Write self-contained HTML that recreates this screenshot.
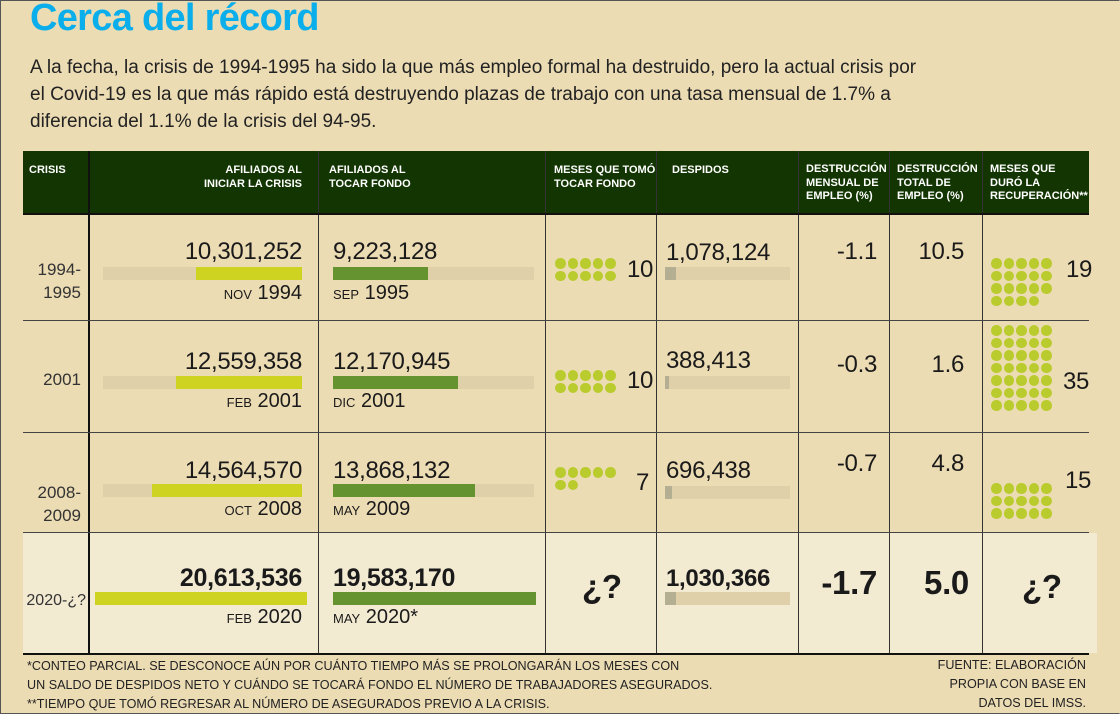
<!DOCTYPE html>
<html><head><meta charset="utf-8">
<style>
*{margin:0;padding:0;box-sizing:border-box}
body{width:1120px;height:714px;background:#ecdcb4;position:relative;overflow:hidden;font-family:"Liberation Sans",sans-serif;color:#1a1a1a}
.frame{position:absolute;left:0;top:0;width:1120px;height:714px;border:1px solid #555;border-right-color:#ecdcb4}
h1{position:absolute;left:30px;top:-3px;font-size:38px;font-weight:bold;color:#0aaeea;letter-spacing:-0.7px}
.p{position:absolute;left:30px;top:54px;font-size:19px;line-height:27px;width:900px;color:#222}
.hdr{position:absolute;left:23px;top:151px;width:1066px;height:62px;background:#123502}
.ht{position:absolute;color:#fff;font-weight:bold;font-size:11px;line-height:13.5px;top:164px}
.vl{position:absolute;width:1px;background:#333}
.hl{position:absolute;height:1px;background:#444;left:23px;width:1066px}
.num{position:absolute;font-size:24px;white-space:nowrap;letter-spacing:-0.3px}
.b{font-weight:bold}
.bar{position:absolute;height:13px;background:#dfd0aa}
.y{position:absolute;height:13px;background:#cdd320}
.g{position:absolute;height:13px;background:#649330}
.gs{position:absolute;height:13px;background:#b4ae92}
.dt{position:absolute;font-size:20px;white-space:nowrap}
.dt small{font-size:13px}
.dots{position:absolute;display:flex;flex-wrap:wrap;width:64px}
.dots span{width:10.5px;height:10.5px;border-radius:50%;background:#b9cb2d;margin:0 2px 2px 0}
.lab{position:absolute;font-size:17px;text-align:right;line-height:23px;color:#333}
.fn{position:absolute;font-size:12.6px;line-height:20px;color:#222;white-space:nowrap}
</style></head><body>
<h1>Cerca del récord</h1>
<div class="p">A la fecha, la crisis de 1994-1995 ha sido la que más empleo formal ha destruido, pero la actual crisis por el Covid-19 es la que más rápido está destruyendo plazas de trabajo con una tasa mensual de 1.7% a diferencia del 1.1% de la crisis del 94-95.</div>

<div style="position:absolute;left:23px;top:533px;width:1074px;height:120px;background:#f3ead2"></div>

<div class="hdr"></div>
<div class="ht" style="left:29px">CRISIS</div>
<div class="ht" style="left:180px;width:122px;text-align:right">AFILIADOS AL<br>INICIAR LA CRISIS</div>
<div class="ht" style="left:329px">AFILIADOS AL<br>TOCAR FONDO</div>
<div class="ht" style="left:554px">MESES QUE TOMÓ<br>TOCAR FONDO</div>
<div class="ht" style="left:672px">DESPIDOS</div>
<div class="ht" style="left:806px;top:163px">DESTRUCCIÓN<br>MENSUAL DE<br>EMPLEO (%)</div>
<div class="ht" style="left:897px;top:163px">DESTRUCCIÓN<br>TOTAL DE<br>EMPLEO (%)</div>
<div class="ht" style="left:990px;top:163px">MESES QUE<br>DURÓ LA<br>RECUPERACIÓN**</div>

<div class="vl" style="left:88px;top:151px;height:503px;width:2px;background:#111"></div>
<div class="vl" style="left:318px;top:151px;height:503px"></div>
<div class="vl" style="left:545px;top:151px;height:503px"></div>
<div class="vl" style="left:656px;top:151px;height:503px"></div>
<div class="vl" style="left:798px;top:151px;height:503px"></div>
<div class="vl" style="left:889px;top:151px;height:503px"></div>
<div class="vl" style="left:982px;top:151px;height:503px"></div>
<div class="hl" style="top:213px;height:2px;background:#111"></div>
<div class="hl" style="top:320px"></div>
<div class="hl" style="top:432px"></div>
<div class="hl" style="top:532px"></div>
<div class="hl" style="top:653px;height:2px;background:#111"></div>

<div class="lab" style="left:20px;width:61px;top:258px">1994-<br>1995</div>
<div class="lab" style="left:20px;width:61px;top:368px">2001</div>
<div class="lab" style="left:20px;width:61px;top:481px">2008-<br>2009</div>
<div class="lab" style="left:20px;width:66px;top:589px;font-size:16px">2020-¿?</div>

<div class="num" style="right:818px;top:238px">10,301,252</div>
<div class="bar" style="left:103px;width:199px;top:267px"></div><div class="y" style="left:196px;width:106px;top:267px"></div>
<div class="dt" style="right:818px;top:282px"><small>NOV</small> 1994</div>
<div class="num" style="left:333px;top:238px">9,223,128</div>
<div class="bar" style="left:333px;width:201px;top:267px"></div><div class="g" style="left:333px;width:95px;top:267px"></div>
<div class="dt" style="left:333px;top:282px"><small>SEP</small> 1995</div>

<div class="num" style="right:818px;top:348px">12,559,358</div>
<div class="bar" style="left:103px;width:199px;top:376px"></div><div class="y" style="left:176px;width:126px;top:376px"></div>
<div class="dt" style="right:818px;top:390px"><small>FEB</small> 2001</div>
<div class="num" style="left:333px;top:348px">12,170,945</div>
<div class="bar" style="left:333px;width:201px;top:376px"></div><div class="g" style="left:333px;width:125px;top:376px"></div>
<div class="dt" style="left:333px;top:390px"><small>DIC</small> 2001</div>

<div class="num" style="right:818px;top:457px">14,564,570</div>
<div class="bar" style="left:103px;width:199px;top:484px"></div><div class="y" style="left:152px;width:150px;top:484px"></div>
<div class="dt" style="right:818px;top:498px"><small>OCT</small> 2008</div>
<div class="num" style="left:333px;top:457px">13,868,132</div>
<div class="bar" style="left:333px;width:201px;top:484px"></div><div class="g" style="left:333px;width:142px;top:484px"></div>
<div class="dt" style="left:333px;top:498px"><small>MAY</small> 2009</div>

<div class="num b" style="right:818px;top:564px;font-size:25px">20,613,536</div>
<div class="y" style="left:95px;width:212px;top:592px"></div>
<div class="dt" style="right:818px;top:606px"><small>FEB</small> 2020</div>
<div class="num b" style="left:333px;top:564px;font-size:25px">19,583,170</div>
<div class="g" style="left:333px;width:203px;top:592px"></div>
<div class="dt" style="left:333px;top:606px"><small>MAY</small> 2020*</div>

<div class="dots" style="left:555px;top:258px"><span></span><span></span><span></span><span></span><span></span><span></span><span></span><span></span><span></span><span></span></div>
<div class="num" style="left:627px;top:256px">10</div>
<div class="dots" style="left:555px;top:370px"><span></span><span></span><span></span><span></span><span></span><span></span><span></span><span></span><span></span><span></span></div>
<div class="num" style="left:627px;top:367px">10</div>
<div class="dots" style="left:555px;top:467px"><span></span><span></span><span></span><span></span><span></span><span></span><span></span></div>
<div class="num" style="left:636px;top:469px">7</div>
<div class="num b" style="left:582px;top:568px;font-size:33px">¿?</div>

<div class="num" style="left:666px;top:239px">1,078,124</div>
<div class="bar" style="left:665px;width:125px;top:267px"></div><div class="gs" style="left:665px;width:11px;top:267px"></div>
<div class="num" style="left:666px;top:347px">388,413</div>
<div class="bar" style="left:665px;width:125px;top:376px"></div><div class="gs" style="left:665px;width:4px;top:376px"></div>
<div class="num" style="left:666px;top:457px">696,438</div>
<div class="bar" style="left:665px;width:125px;top:486px"></div><div class="gs" style="left:665px;width:7px;top:486px"></div>
<div class="num b" style="left:666px;top:565px">1,030,366</div>
<div class="bar" style="left:665px;width:125px;top:592px"></div><div class="gs" style="left:665px;width:11px;top:592px"></div>

<div class="num" style="right:243px;top:238px">-1.1</div>
<div class="num" style="right:243px;top:351px">-0.3</div>
<div class="num" style="right:243px;top:450px">-0.7</div>
<div class="num b" style="right:243px;top:564px;font-size:33px">-1.7</div>
<div class="num" style="right:156px;top:238px">10.5</div>
<div class="num" style="right:156px;top:351px">1.6</div>
<div class="num" style="right:156px;top:450px">4.8</div>
<div class="num b" style="right:151px;top:564px;font-size:33px">5.0</div>

<div class="dots" style="left:991px;top:258px"><span></span><span></span><span></span><span></span><span></span><span></span><span></span><span></span><span></span><span></span><span></span><span></span><span></span><span></span><span></span><span></span><span></span><span></span><span></span></div>
<div class="num" style="left:1066px;top:256px">19</div>
<div class="dots" style="left:991px;top:325px"><span></span><span></span><span></span><span></span><span></span><span></span><span></span><span></span><span></span><span></span><span></span><span></span><span></span><span></span><span></span><span></span><span></span><span></span><span></span><span></span><span></span><span></span><span></span><span></span><span></span><span></span><span></span><span></span><span></span><span></span><span></span><span></span><span></span><span></span><span></span></div>
<div class="num" style="left:1063px;top:368px">35</div>
<div class="dots" style="left:991px;top:483px"><span></span><span></span><span></span><span></span><span></span><span></span><span></span><span></span><span></span><span></span><span></span><span></span><span></span><span></span><span></span></div>
<div class="num" style="left:1065px;top:467px">15</div>
<div class="num b" style="left:1022px;top:568px;font-size:33px">¿?</div>

<div class="fn" style="left:27px;top:656px">*CONTEO PARCIAL. SE DESCONOCE AÚN POR CUÁNTO TIEMPO MÁS SE PROLONGARÁN LOS MESES CON</div>
<div class="fn" style="left:27px;top:675px">UN SALDO DE DESPIDOS NETO Y CUÁNDO SE TOCARÁ FONDO EL NÚMERO DE TRABAJADORES ASEGURADOS.</div>
<div class="fn" style="left:27px;top:694px">**TIEMPO QUE TOMÓ REGRESAR AL NÚMERO DE ASEGURADOS PREVIO A LA CRISIS.</div>
<div class="fn" style="right:34px;top:656px;text-align:right;line-height:19px">FUENTE: ELABORACIÓN<br>PROPIA CON BASE EN<br>DATOS DEL IMSS.</div>
<div class="frame"></div>
</body></html>
